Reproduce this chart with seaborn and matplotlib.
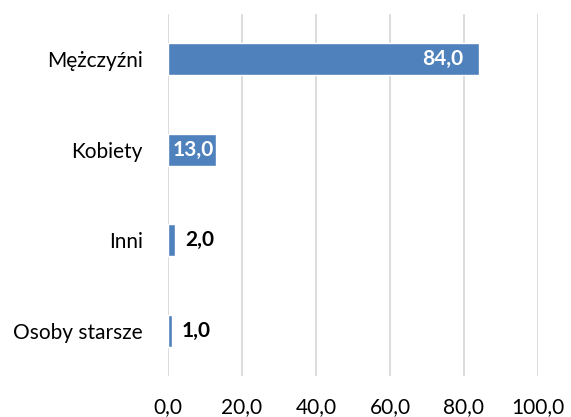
import matplotlib
matplotlib.use("Agg")
import matplotlib.pyplot as plt
import pandas as pd
import seaborn as sns

categories = ["Mężczyźni", "Kobiety", "Inni", "Osoby starsze"]
values = [84.0, 13.0, 2.0, 1.0]
x_ticks = [0, 20, 40, 60, 80, 100]

bar_color = "#4F81BD"
grid_color = "#D9D9D9"


def fmt(v):
    return f"{v:.1f}".replace(".", ",")


def main():
    sns.set_theme(style="white")
    plt.rcParams["font.family"] = ["Lato", "DejaVu Sans"]

    df = pd.DataFrame({"category": categories, "value": values})

    fig = plt.figure(figsize=(5.71, 4.17), dpi=100)
    ax = fig.add_axes([0.2942, 0.0983, 0.648, 0.868])

    sns.barplot(data=df, x="value", y="category", orient="h", color=bar_color,
                saturation=1, width=0.355, ax=ax)

    ax.set_xlim(0, 100)
    ax.set_xticks(x_ticks)
    ax.set_xticklabels([fmt(t) for t in x_ticks], fontsize=15, color="#000000")
    ax.tick_params(axis="x", length=0, pad=15)
    ax.tick_params(axis="y", length=0, pad=18, labelsize=15, labelcolor="#000000")
    ax.set_xlabel("")
    ax.set_ylabel("")
    ax.grid(axis="x", color=grid_color, linewidth=1.3)
    ax.set_axisbelow(True)
    for s in ax.spines.values():
        s.set_visible(False)

    # data labels: inside end for the long bars, outside for the short ones
    for i, v in enumerate(values):
        if v >= 10:
            off = -11 if v > 50 else -1.5
            ax.annotate(fmt(v), (v, i), xytext=(off, 0), textcoords="offset points",
                        ha="right", va="center", color="white",
                        fontsize=15, fontweight="bold")
        else:
            ax.annotate(fmt(v), (v, i), xytext=(7, 0), textcoords="offset points",
                        ha="left", va="center", color="black",
                        fontsize=15, fontweight="bold")

    fig.savefig("out.png", dpi=100)


if __name__ == "__main__":
    main()
